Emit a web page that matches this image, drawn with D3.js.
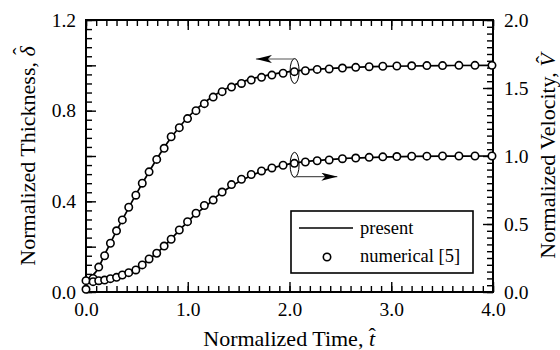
<!DOCTYPE html>
<html>
<head>
<meta charset="utf-8">
<script src="https://cdn.jsdelivr.net/npm/d3@7"></script>
<style>
  body { margin: 0; background: #fff; }
  svg { display: block; font-family: "Liberation Serif", "Times New Roman", serif; }
</style>
</head>
<body>
<svg id="chart" width="560" height="350"></svg>
<script>
// numerical [5] points (shared time grid)
const tNum = [0, 0.07, 0.125, 0.183, 0.24, 0.3, 0.357, 0.42, 0.49, 0.553, 0.62, 0.695, 0.768, 0.837,
  0.917, 0.998, 1.081, 1.163, 1.25, 1.338, 1.43, 1.528, 1.624, 1.725, 1.827, 1.937, 2.048, 2.156,
  2.272, 2.39, 2.52, 2.651, 2.783, 2.917, 3.055, 3.201, 3.35, 3.504, 3.665, 3.823, 3.99];
const deltaNum = [0.05, 0.06, 0.11, 0.16, 0.215, 0.27, 0.318, 0.374, 0.427, 0.48, 0.53, 0.585, 0.634,
  0.685, 0.725, 0.765, 0.8, 0.831, 0.86, 0.884, 0.904, 0.92, 0.935, 0.947, 0.957, 0.965, 0.972,
  0.976, 0.982, 0.984, 0.988, 0.991, 0.994, 0.996, 0.997, 0.998, 0.999, 0.999, 1.0, 1.0, 1.0];
const velNum = [0.02, 0.076, 0.083, 0.088, 0.098, 0.108, 0.125, 0.142, 0.162, 0.199, 0.243, 0.285,
  0.338, 0.388, 0.456, 0.517, 0.579, 0.636, 0.676, 0.735, 0.79, 0.829, 0.864, 0.89, 0.912, 0.932,
  0.946, 0.956, 0.965, 0.971, 0.98, 0.985, 0.99, 0.994, 0.996, 0.998, 0.999, 1.0, 1.0, 1.0, 1.0];

// present solution
const tDeltaPresent = [0, 0.1, 0.2, 0.3, 0.4, 0.5, 0.6, 0.7, 0.8, 0.9, 1.0, 1.1, 1.2, 1.4, 1.6, 1.8,
  2.0, 2.25, 2.5, 3.0, 3.5, 4.0];
const deltaPresent = [0.05, 0.09, 0.18, 0.27, 0.355, 0.437, 0.515, 0.59, 0.658, 0.718, 0.77, 0.812,
  0.848, 0.902, 0.937, 0.958, 0.972, 0.982, 0.989, 0.996, 0.999, 1.0];
const tVelPresent = [0, 0.1, 0.2, 0.3, 0.4, 0.5, 0.6, 0.7, 0.8, 0.9, 1.0, 1.1, 1.2, 1.3, 1.4, 1.6,
  1.8, 2.0, 2.25, 2.5, 3.0, 3.5, 4.0];
const velPresent = [0.07, 0.08, 0.093, 0.11, 0.135, 0.17, 0.228, 0.29, 0.36, 0.44, 0.518, 0.585,
  0.645, 0.712, 0.765, 0.848, 0.905, 0.942, 0.966, 0.98, 0.994, 0.999, 1.0];

// ticks
const xTicks = [0, 1, 2, 3, 4];
const xTickLabels = ["0.0", "1.0", "2.0", "3.0", "4.0"];
const leftTicks = [0, 0.4, 0.8, 1.2];
const leftTickLabels = ["0.0", "0.4", "0.8", "1.2"];
const rightTicks = [0, 0.5, 1.0, 1.5, 2.0];
const rightTickLabels = ["0.0", "0.5", "1.0", "1.5", "2.0"];
const legendLabels = ["present", "numerical [5]"];

// annotation anchors (data coords)
const deltaMarker = { t: 2.05, v: 0.975, arrowV: 1.028, arrowTo: 1.67 };
const velMarker = { t: 2.05, v: 0.935, arrowV: 0.848, arrowTo: 2.47 };

const width = 560, height = 350;
const margin = { top: 20, right: 67, bottom: 58, left: 86 };
const svg = d3.select("#chart");
const font = "'Liberation Serif', 'Times New Roman', serif";

const x = d3.scaleLinear().domain([0, 4]).range([margin.left, width - margin.right]);
const yL = d3.scaleLinear().domain([0, 1.2]).range([height - margin.bottom, margin.top]);
const yR = d3.scaleLinear().domain([0, 2]).range([height - margin.bottom, margin.top]);

const plotW = width - margin.left - margin.right;
const plotH = height - margin.top - margin.bottom;

function addAxis(axis, transform) {
  const g = svg.append("g").attr("transform", transform).call(axis)
    .attr("font-family", font).attr("font-size", 19.5);
  g.select(".domain").remove();
  g.selectAll("line").attr("stroke", "#000").attr("stroke-width", 1.4);
  g.selectAll("text").attr("fill", "#000");
  return g;
}
const fmt = (vals, labels) => (d) => {
  const i = vals.findIndex((v) => Math.abs(v - d) < 1e-9);
  return i >= 0 ? labels[i] : "";
};

// x axes (bottom + top)
const xMinor = d3.range(0, 4.0001, 0.1);
addAxis(d3.axisBottom(x).tickValues(xMinor).tickSize(-6).tickFormat(""), `translate(0,${yL(0)})`);
addAxis(d3.axisBottom(x).tickValues(xTicks).tickSize(-10).tickPadding(10)
  .tickFormat(fmt(xTicks, xTickLabels)), `translate(0,${yL(0)})`);
addAxis(d3.axisTop(x).tickValues(xMinor).tickSize(-6).tickFormat(""), `translate(0,${margin.top})`);
addAxis(d3.axisTop(x).tickValues(xTicks).tickSize(-10).tickFormat(""), `translate(0,${margin.top})`);

// left axis
addAxis(d3.axisLeft(yL).tickValues(d3.range(0, 1.2001, 0.04)).tickSize(-6).tickFormat(""),
  `translate(${margin.left},0)`);
addAxis(d3.axisLeft(yL).tickValues(d3.range(0, 1.2001, 0.2)).tickSize(-10).tickPadding(10)
  .tickFormat(fmt(leftTicks, leftTickLabels)), `translate(${margin.left},0)`);

// right axis
addAxis(d3.axisRight(yR).tickValues(d3.range(0, 2.0001, 0.05)).tickSize(-6).tickFormat(""),
  `translate(${width - margin.right},0)`);
addAxis(d3.axisRight(yR).tickValues(rightTicks).tickSize(-10).tickPadding(11)
  .tickFormat(fmt(rightTicks, rightTickLabels)), `translate(${width - margin.right},0)`);

// frame
svg.append("rect")
  .attr("x", margin.left).attr("y", margin.top)
  .attr("width", plotW).attr("height", plotH)
  .attr("fill", "none").attr("stroke", "#000").attr("stroke-width", 2);

// present curves
const lineL = d3.line().x((d) => x(d[0])).y((d) => yL(d[1])).curve(d3.curveMonotoneX);
const lineR = d3.line().x((d) => x(d[0])).y((d) => yR(d[1])).curve(d3.curveMonotoneX);
svg.append("path")
  .datum(d3.zip(tDeltaPresent, deltaPresent))
  .attr("fill", "none").attr("stroke", "#000").attr("stroke-width", 1.7)
  .attr("d", lineL);
svg.append("path")
  .datum(d3.zip(tVelPresent, velPresent))
  .attr("fill", "none").attr("stroke", "#000").attr("stroke-width", 1.7)
  .attr("d", lineR);

// numerical circles
const addCircles = (vals, y) => svg.append("g").selectAll("circle")
  .data(d3.zip(tNum, vals)).join("circle")
  .attr("cx", (d) => x(d[0])).attr("cy", (d) => y(d[1])).attr("r", 3.7)
  .attr("fill", "#fff").attr("stroke", "#000").attr("stroke-width", 1.6);
addCircles(deltaNum, yL);
addCircles(velNum, yR);

// ellipse markers with arrows
svg.append("defs").append("marker")
  .attr("id", "head").attr("viewBox", "0 0 16 8").attr("refX", 16).attr("refY", 4)
  .attr("markerWidth", 16).attr("markerHeight", 8).attr("markerUnits", "userSpaceOnUse")
  .attr("orient", "auto")
  .append("path").attr("d", "M0,0L16,4L0,8L4,4Z").attr("fill", "#000");

const addMarker = (m, y) => {
  svg.append("ellipse")
    .attr("cx", x(m.t)).attr("cy", y(m.v)).attr("rx", 4.5).attr("ry", 12.5)
    .attr("fill", "none").attr("stroke", "#000").attr("stroke-width", 1);
  svg.append("line")
    .attr("x1", x(m.t)).attr("y1", y(m.arrowV))
    .attr("x2", x(m.arrowTo)).attr("y2", y(m.arrowV))
    .attr("stroke", "#555").attr("stroke-width", 1.2)
    .attr("marker-end", "url(#head)");
};
addMarker(deltaMarker, yL);
addMarker(velMarker, yR);

// legend
const lg = svg.append("g").attr("transform", "translate(291,211)");
lg.append("rect").attr("width", 182).attr("height", 62)
  .attr("fill", "#fff").attr("stroke", "#000").attr("stroke-width", 1.6);
lg.append("line").attr("x1", 8).attr("x2", 62).attr("y1", 17).attr("y2", 17)
  .attr("stroke", "#000").attr("stroke-width", 1.7);
lg.append("circle").attr("cx", 36).attr("cy", 46).attr("r", 3.7)
  .attr("fill", "#fff").attr("stroke", "#000").attr("stroke-width", 1.6);
lg.selectAll("text").data(legendLabels).join("text")
  .attr("x", 69).attr("y", (d, i) => 23 + i * 28)
  .attr("font-family", font).attr("font-size", 18.5).attr("fill", "#000")
  .text((d) => d);

// axis titles
function title(g, label, sym, hatDx, hatDy) {
  const t = g.append("text").attr("text-anchor", "middle")
    .attr("font-family", font).attr("font-size", 22).attr("fill", "#000");
  t.append("tspan").text(label);
  t.append("tspan").attr("font-style", "italic").text(sym);
  t.append("tspan").attr("dx", hatDx).attr("dy", hatDy).text("\u02C6");
  return t;
}
title(svg.append("g").attr("transform", `translate(${margin.left + plotW / 2},346)`),
  "Normalized Time, ", "t", "-0.3em", "-0.12em");
title(svg.append("g").attr("transform", `translate(35,${margin.top + plotH / 2}) rotate(-90)`),
  "Normalized Thickness, ", "\u03B4", "-0.4em", "-0.3em");
title(svg.append("g").attr("transform", `translate(555,${margin.top + plotH / 2}) rotate(-90)`),
  "Normalized Velocity, ", "V", "-0.45em", "-0.2em");
</script>
</body>
</html>
